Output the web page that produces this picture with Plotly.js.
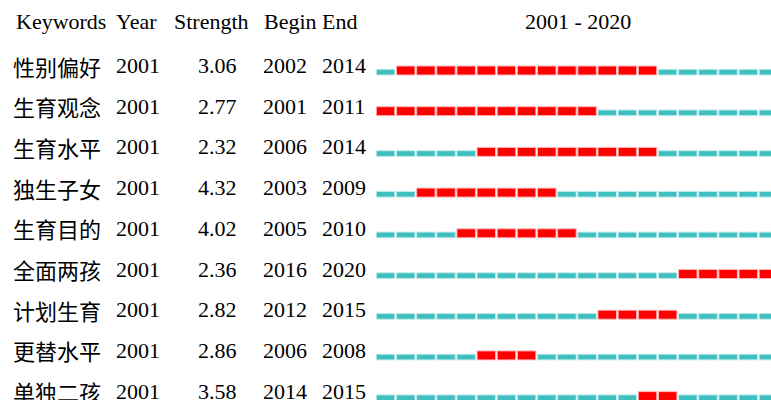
<!DOCTYPE html>
<html><head><meta charset="utf-8">
<script src="https://cdn.plot.ly/plotly-3.0.1.min.js"></script>
<style>html,body{margin:0;padding:0;background:#fff;}#chart{width:771px;height:400px;}</style>
</head><body><div id="chart"></div>
<script>
const keywords = ['性别偏好','生育观念','生育水平','独生子女','生育目的','全面两孩','计划生育','更替水平','单独二孩'];
const yearCol = [2001,2001,2001,2001,2001,2001,2001,2001,2001];
const strength = [3.06,2.77,2.32,4.32,4.02,2.36,2.82,2.86,3.58];
const beginYr = [2002,2001,2006,2003,2005,2016,2012,2006,2014];
const endYr = [2014,2011,2014,2009,2010,2020,2015,2008,2015];
const spanStart = 2001, spanEnd = 2020;
const headers = ['Keywords','Year','Strength','Begin','End'];

const W = 771, H = 400;
const rowPx = 40.7, row0 = 70.5;
const toY = px => (px - row0) / rowPx;
const gap = 0.04;

const red = {y:[], base:[], x:[]}, teal = {y:[], base:[], x:[]};
for (let i = 0; i < keywords.length; i++) {
  for (let yr = spanStart; yr <= spanEnd; yr++) {
    const t = (yr >= beginYr[i] && yr <= endYr[i]) ? red : teal;
    t.y.push(i); t.base.push(yr - 0.5 + gap); t.x.push(1 - 2*gap);
  }
}
const redH = 9 / rowPx, tealH = 5.7 / rowPx;
const traces = [
  {type:'bar', orientation:'h', y:teal.y, base:teal.base, x:teal.x, width:tealH, offset:4.5/rowPx - tealH,
   marker:{color:'#3fbfbf', line:{color:'#bfeaea', width:1}}, hoverinfo:'skip'},
  {type:'bar', orientation:'h', y:red.y, base:red.base, x:red.x, width:redH, offset:-redH/2,
   marker:{color:'#ff0000', line:{color:'#ffb8b8', width:1}}, hoverinfo:'skip'}
];

const serif = 'Liberation Serif, Times New Roman, serif';
const cjk = 'Noto Sans CJK SC, Noto Serif CJK SC, sans-serif';
const fs = 22;
const ann = [];
const txtOff = -5 / rowPx;
const hdrX = [14, 114, 172, 262, 320];
headers.forEach((h, k) => ann.push({xref:'paper', yref:'y', x:hdrX[k]/W, y:toY(21), xanchor:'left', yanchor:'middle',
  text:h, showarrow:false, font:{family:serif, size:fs, color:'#000'}}));
ann.push({xref:'paper', yref:'y', x:578/W, y:toY(21), xanchor:'center', yanchor:'middle', text:spanStart + ' - ' + spanEnd,
  showarrow:false, font:{family:serif, size:fs, color:'#000'}});
for (let i = 0; i < keywords.length; i++) {
  const yy = i + txtOff;
  ann.push({xref:'paper', yref:'y', x:11/W, y:yy, xanchor:'left', yanchor:'middle', text:keywords[i], showarrow:false, font:{family:cjk, size:fs, color:'#000'}});
  ann.push({xref:'paper', yref:'y', x:114/W, y:yy, xanchor:'left', yanchor:'middle', text:String(yearCol[i]), showarrow:false, font:{family:serif, size:fs, color:'#000'}});
  ann.push({xref:'paper', yref:'y', x:239/W, y:yy, xanchor:'right', yanchor:'middle', text:strength[i].toFixed(2), showarrow:false, font:{family:serif, size:fs, color:'#000'}});
  ann.push({xref:'paper', yref:'y', x:261/W, y:yy, xanchor:'left', yanchor:'middle', text:String(beginYr[i]), showarrow:false, font:{family:serif, size:fs, color:'#000'}});
  ann.push({xref:'paper', yref:'y', x:320/W, y:yy, xanchor:'left', yanchor:'middle', text:String(endYr[i]), showarrow:false, font:{family:serif, size:fs, color:'#000'}});
}

const x0 = 375.5, cell = 20.15;
const layout = {
  width:W, height:H, margin:{l:0, r:0, t:0, b:0}, paper_bgcolor:'#fff', plot_bgcolor:'rgba(0,0,0,0)',
  barmode:'overlay', showlegend:false,
  xaxis:{domain:[x0/W, 1], range:[spanStart - 0.5, spanStart - 0.5 + (W - x0)/cell], visible:false, fixedrange:true},
  yaxis:{domain:[0,1], range:[toY(H), toY(0)], visible:false, fixedrange:true},
  annotations:ann
};
Plotly.newPlot('chart', traces, layout, {staticPlot:true, displayModeBar:false});
</script></body></html>
